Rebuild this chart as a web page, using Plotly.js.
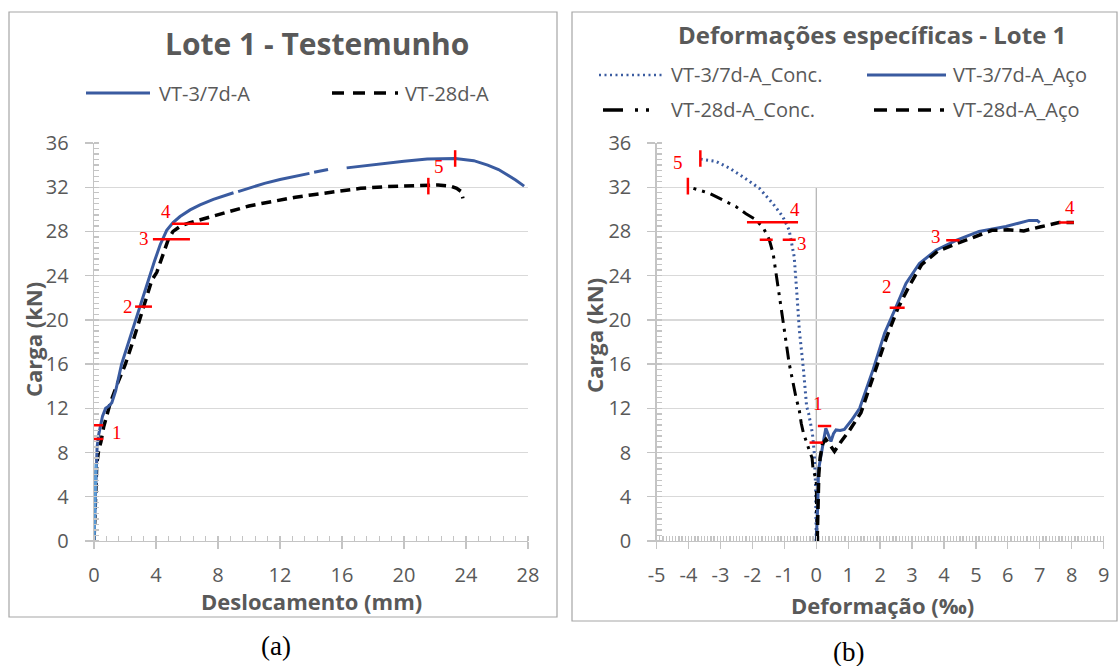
<!DOCTYPE html>
<html>
<head>
<meta charset="utf-8">
<script src="https://cdn.plot.ly/plotly-3.0.1.min.js"></script>
<style>
  html, body { margin: 0; padding: 0; background: #ffffff; }
  #chart { width: 1118px; height: 666px; }
</style>
</head>
<body>
<div id="chart"></div>
<script>
// ---------- Panel (a): load vs. displacement ----------
const dispVT37 = [0, 0.04, 0.07, 0.1, 0.13, 0.2, 0.3, 0.4, 0.55, 0.75, 0.95, 1.15, 1.4, 1.78, 2.25, 2.69, 3.1, 3.5, 3.9, 4.27, 4.69, 5.1, 5.55, 6.2, 6.84, 7.7, 8.56, 9.0, null, 9.3, 10.28, 11.0, 12.0, 12.86, 13.9, null, 14.2, 15.1, null, 16.3, 18.0, 20.0, 21.5, 22.5, 23.3, 24.5, 25.4, 26.1, 26.7, 27.2, 27.75];
const loadVT37 = [0, 2, 4, 5.5, 7, 8.5, 9.6, 10.4, 11.3, 12.0, 12.2, 12.5, 13.6, 16.0, 18.1, 20.0, 21.8, 23.6, 25.3, 26.8, 28.1, 28.8, 29.35, 29.95, 30.4, 30.9, 31.3, 31.5, null, 31.6, 32.06, 32.35, 32.7, 32.95, 33.25, null, 33.35, 33.6, null, 33.75, 34.05, 34.35, 34.55, 34.6, 34.6, 34.4, 34.0, 33.6, 33.1, 32.65, 32.1];
const dispVT28 = [0, 0.03, 0.06, 0.1, 0.18, 0.3, 0.45, 0.62, 0.85, 1.03, 1.5, 2.0, 2.5, 2.97, 3.35, 3.73, 4.05, 4.45, 4.8, 5.1, 5.6, 6.2, 6.85, 7.9, 9.0, 10.0, 10.9, 12.0, 13.0, 14.0, 15.5, 17.2, 18.8, 20.4, 21.5, 22.2, 23.0, 23.4, 23.7, 23.8];
const loadVT28 = [0, 1.5, 3.5, 5.5, 7.0, 8.2, 9.0, 10.3, 11.5, 12.4, 14.2, 15.9, 18.0, 20.15, 21.9, 23.6, 24.3, 26.0, 27.3, 28.0, 28.5, 28.8, 29.05, 29.5, 29.95, 30.3, 30.55, 30.86, 31.1, 31.3, 31.6, 31.9, 32.05, 32.15, 32.2, 32.2, 32.1, 31.9, 31.6, 31.0];

// ---------- Panel (b): load vs. strain ----------
const strainConc37 = [0, -0.02, -0.06, -0.12, -0.24, -0.3, -0.4, -0.53, -0.6, -0.69, -0.85, -1.05, -1.37, -1.78, -2.31, -2.72, -3.14, -3.61];
const loadConc37   = [0, 4.9, 7.9, 9.75, 11.56, 12.15, 15.5, 19.1, 22.1, 25.7, 28.14, 29.35, 30.56, 31.9, 32.97, 33.73, 34.33, 34.54];
const strainConc28 = [0.02, 0.02, 0.0, -0.1, -0.13, -0.24, -0.4, -0.47, -0.53, -0.64, -0.76, -0.85, -1.03, -1.14, -1.26, -1.35, -1.47, -1.65, -1.89, -2.2, -2.52, -2.95, -3.35, -4.03];
const loadConc28   = [0, 3, 5.5, 6.5, 7.5, 8.4, 9.75, 10.65, 11.8, 13.06, 14.7, 16.1, 19.7, 22.0, 24.5, 26.0, 27.24, 28.3, 29.05, 29.6, 30.25, 30.9, 31.46, 32.06];
const strainSteel37 = [0, 0.03, 0.05, 0.07, 0.15, 0.25, 0.3, 0.38, 0.46, 0.54, 0.62, 0.75, 0.88, 1.1, 1.36, 1.78, 2.14, 2.46, 2.81, 3.23, 3.75, 4.38, 5.1, 5.94, 6.67, 6.92, 7.0];
const loadSteel37   = [0, 2, 3.4, 6.4, 7.9, 9.4, 10.2, 9.6, 9.0, 9.7, 10.05, 10.0, 10.1, 10.9, 12.0, 15.5, 18.8, 20.9, 23.3, 25.1, 26.3, 27.2, 28.0, 28.45, 29.0, 29.0, 28.8];
const strainSteel28 = [0.03, 0.05, 0.08, 0.12, 0.2, 0.3, 0.45, 0.57, 0.78, 1.04, 1.4, 1.8, 2.2, 2.55, 2.9, 3.3, 3.8, 4.4, 5.0, 5.5, 6.0, 6.5, 7.0, 7.6, 8.07];
const loadSteel28   = [0, 3, 6, 7.5, 8.8, 9.2, 8.6, 8.1, 9.0, 10.0, 11.6, 15.0, 18.4, 21.0, 23.0, 25.0, 26.2, 26.9, 27.6, 28.1, 28.15, 28.05, 28.4, 28.8, 28.8];

// ---------- Axes and text ----------
const loadTicks = [0, 4, 8, 12, 16, 20, 24, 28, 32, 36];
const dispTicks = [0, 4, 8, 12, 16, 20, 24, 28];
const strainTicks = [-5, -4, -3, -2, -1, 0, 1, 2, 3, 4, 5, 6, 7, 8, 9];
const namesA = ['VT-3/7d-A', 'VT-28d-A'];
const namesB = ['VT-3/7d-A_Conc.', 'VT-3/7d-A_Aço', 'VT-28d-A_Conc.', 'VT-28d-A_Aço'];

// Loading stages marked on each panel: [label, start, end, load]
const stagesA = [['1', -0.37, 0.6, 10.47], ['', -0.37, 0.6, 9.23], ['2', 2.65, 3.74, 21.2], ['3', 3.8, 6.19, 27.3], ['4', 5.03, 7.42, 28.7]];
// Failure (stage 5) marks: [position, load]
const failA = [[23.3, 34.6], [21.57, 32.1]];
const stagesB = [['4', -2.17, -0.57, 28.84], ['1', 0.05, 0.47, 10.4], ['', -0.21, 0.21, 8.9], ['2', 2.3, 2.77, 21.1], ['3', 4.07, 4.49, 27.2], ['4', 7.6, 8.07, 28.8]];
const failB = [[-3.63, 34.6], [-4.02, 32.1]];

const W = 1118, H = 666;
const px = v => v / W;
const py = v => 1 - v / H;

const BLUE = '#3a5ba0';
const BLUE_LIGHT = '#5b9bd5';
const GREY = '#595959';
const RED = '#ff0000';
const FONT = 'Open Sans, Noto Sans, sans-serif';
const SERIF = 'Liberation Serif, Times New Roman, serif';

const DASH_A = '10px,6px';
const DOT_B = '2px,3.5px';
const DASHDOT_B = '13px,6px,3px,6px,3px,6px';

const traces = [
  { x: dispVT28, y: loadVT28, xaxis: 'x', yaxis: 'y', mode: 'lines', name: namesA[1],
    line: { color: '#000000', width: 3.5, dash: DASH_A }, showlegend: false },
  { x: dispVT37, y: loadVT37, xaxis: 'x', yaxis: 'y', mode: 'lines', name: namesA[0],
    line: { color: BLUE, width: 3 }, showlegend: false },
  { x: dispVT37.slice(0, 5), y: loadVT37.slice(0, 5), xaxis: 'x', yaxis: 'y', mode: 'lines', name: namesA[0],
    line: { color: BLUE_LIGHT, width: 3 }, showlegend: false, hoverinfo: 'skip' },

  { x: strainConc37, y: loadConc37, xaxis: 'x2', yaxis: 'y2', mode: 'lines', name: namesB[0],
    line: { color: BLUE, width: 3, dash: DOT_B }, showlegend: false },
  { x: strainConc28, y: loadConc28, xaxis: 'x2', yaxis: 'y2', mode: 'lines', name: namesB[2],
    line: { color: '#000000', width: 3, dash: DASHDOT_B }, showlegend: false },
  { x: strainSteel37, y: loadSteel37, xaxis: 'x2', yaxis: 'y2', mode: 'lines', name: namesB[1],
    line: { color: BLUE, width: 3 }, showlegend: false },
  { x: strainSteel28, y: loadSteel28, xaxis: 'x2', yaxis: 'y2', mode: 'lines', name: namesB[3],
    line: { color: '#000000', width: 3.5, dash: DASH_A }, showlegend: false }
];

const tickFont = { family: FONT, size: 20, color: GREY };
const AXIS_LINE = '#c4c4c4';

function xAxis(domain, range, ticks, minorStep, anchor) {
  return {
    domain, range, anchor, tickmode: 'array', tickvals: ticks, ticktext: ticks.map(String),
    showgrid: false, zeroline: false, showline: true, linecolor: AXIS_LINE, linewidth: 1.3,
    ticks: 'outside', ticklen: 7, tickwidth: 1.3, tickcolor: AXIS_LINE,
    ticklabelstandoff: 9, tickfont: tickFont, fixedrange: true,
    minor: { tickmode: 'linear', tick0: 0, dtick: minorStep, ticks: 'inside', ticklen: 5,
             tickwidth: 1.3, tickcolor: AXIS_LINE, showgrid: false }
  };
}
function yAxis(domain, anchor) {
  return {
    domain, range: [0, 36], anchor, tickmode: 'array', tickvals: loadTicks, ticktext: loadTicks.map(String),
    showgrid: true, gridcolor: '#d9d9d9', gridwidth: 1.4, zeroline: false,
    showline: true, linecolor: AXIS_LINE, linewidth: 1.3,
    ticks: 'outside', ticklen: 8, tickwidth: 1.3, tickcolor: AXIS_LINE,
    ticklabelstandoff: 12, tickfont: tickFont, fixedrange: true,
    minor: { tickmode: 'linear', tick0: 0, dtick: 0.5, ticks: 'inside', ticklen: 5,
             tickwidth: 1.3, tickcolor: AXIS_LINE, showgrid: false }
  };
}

const yDom = [py(541), py(143)];

const shapes = [
  // panel frames
  { type: 'rect', xref: 'paper', yref: 'paper', x0: px(9), x1: px(557), y0: py(617), y1: py(12),
    line: { color: '#a6a6a6', width: 1.2 } },
  { type: 'rect', xref: 'paper', yref: 'paper', x0: px(572), x1: px(1117), y0: py(621), y1: py(12),
    line: { color: '#a6a6a6', width: 1.2 } },
  // vertical reference line at zero strain
  { type: 'line', xref: 'x2', yref: 'y2', x0: 0, x1: 0, y0: 0, y1: 32,
    line: { color: '#a0a0a0', width: 1 }, layer: 'below' },
  // legend samples, panel (a)
  { type: 'line', xref: 'paper', yref: 'paper', x0: px(86), x1: px(150), y0: py(93), y1: py(93),
    line: { color: BLUE, width: 3 } },
  { type: 'line', xref: 'paper', yref: 'paper', x0: px(332), x1: px(398), y0: py(93), y1: py(93),
    line: { color: '#000000', width: 3.5, dash: '12px,9px' } },
  // legend samples, panel (b)
  { type: 'line', xref: 'paper', yref: 'paper', x0: px(599), x1: px(664), y0: py(75), y1: py(75),
    line: { color: BLUE, width: 2.5, dash: '2px,3.5px' } },
  { type: 'line', xref: 'paper', yref: 'paper', x0: px(867), x1: px(946), y0: py(75), y1: py(75),
    line: { color: BLUE, width: 3 } },
  { type: 'line', xref: 'paper', yref: 'paper', x0: px(603), x1: px(650), y0: py(110), y1: py(110),
    line: { color: '#000000', width: 3.5, dash: '20px,12px,3px,8px,3px,30px' } },
  { type: 'line', xref: 'paper', yref: 'paper', x0: px(874), x1: px(944), y0: py(110), y1: py(110),
    line: { color: '#000000', width: 3.5, dash: '13px,9px' } }
];

const annotations = [];
function txt(text, x, y, font, extra) {
  annotations.push(Object.assign({ text, xref: 'paper', yref: 'paper', x: px(x), y: py(y),
    showarrow: false, font, xanchor: 'center', yanchor: 'middle' }, extra || {}));
}

// titles
txt('<b>Lote 1 - Testemunho</b>', 317, 43, { family: FONT, size: 30, color: GREY });
txt('<b>Deformações específicas - Lote 1</b>', 872, 35, { family: FONT, size: 24, color: GREY });
// axis titles
txt('<b>Carga (kN)</b>', 33, 340, { family: FONT, size: 22, color: GREY }, { textangle: -90 });
txt('<b>Carga (kN)</b>', 594, 336, { family: FONT, size: 22, color: GREY }, { textangle: -90 });
txt('<b>Deslocamento (mm)</b>', 311, 601, { family: FONT, size: 22, color: GREY });
txt('<b>Deformação (‰)</b>', 882, 605, { family: FONT, size: 22, color: GREY });
// legends
const legFont = { family: FONT, size: 20, color: GREY };
txt(namesA[0], 157, 93, legFont, { xanchor: 'left' });
txt(namesA[1], 403, 93, legFont, { xanchor: 'left' });
txt(namesB[0], 669, 75, legFont, { xanchor: 'left' });
txt(namesB[1], 951, 75, legFont, { xanchor: 'left' });
txt(namesB[2], 669, 110, legFont, { xanchor: 'left' });
txt(namesB[3], 951, 110, legFont, { xanchor: 'left' });
// panel captions
txt('(a)', 276, 646, { family: SERIF, size: 27, color: '#000000' });
txt('(b)', 848, 652, { family: SERIF, size: 27, color: '#000000' });

// stage marks
const stageFont = { family: SERIF, size: 19, color: RED };
function stageMarks(list, xref, yref, labelPos) {
  list.forEach((s, i) => {
    shapes.push({ type: 'line', xref, yref, x0: s[1], x1: s[2], y0: s[3], y1: s[3],
      line: { color: RED, width: 2.5 } });
    if (s[0]) {
      const p = labelPos[i];
      annotations.push({ text: s[0], xref, yref, x: p[0], y: p[1], showarrow: false,
        font: stageFont, xanchor: 'center', yanchor: 'middle' });
    }
  });
}
stageMarks(stagesA, 'x', 'y', [[1.46, 9.8], null, [2.2, 21.2], [3.25, 27.4], [4.63, 29.8]]);
stageMarks(stagesB, 'x2', 'y2', [[-0.68, 29.95], [0.05, 12.4], null, [2.23, 23.0], [3.74, 27.5], [7.94, 30.2]]);
// dashed stage-3 mark on the concrete side
shapes.push({ type: 'line', xref: 'x2', yref: 'y2', x0: -1.77, x1: -0.6, y0: 27.24, y1: 27.24,
  line: { color: RED, width: 2.5, dash: '13px,10px' } });
annotations.push({ text: '3', xref: 'x2', yref: 'y2', x: -0.45, y: 26.9, showarrow: false,
  font: stageFont, xanchor: 'center', yanchor: 'middle' });

function failMarks(list, xref, yref, label) {
  list.forEach(f => {
    shapes.push({ type: 'line', xref, yref, x0: f[0], x1: f[0], y0: f[1] - 0.75, y1: f[1] + 0.75,
      line: { color: RED, width: 2.5 } });
  });
  annotations.push({ text: '5', xref, yref, x: label[0], y: label[1], showarrow: false,
    font: stageFont, xanchor: 'center', yanchor: 'middle' });
}
failMarks(failA, 'x', 'y', [22.26, 33.9]);
failMarks(failB, 'x2', 'y2', [-4.33, 34.2]);

const layout = {
  width: W, height: H,
  margin: { l: 0, r: 0, t: 0, b: 0 },
  paper_bgcolor: '#ffffff', plot_bgcolor: '#ffffff',
  showlegend: false,
  xaxis: xAxis([px(94), px(528)], [0, 28], dispTicks, 0.8, 'y'),
  yaxis: yAxis(yDom, 'x'),
  xaxis2: xAxis([px(656.6), px(1103.6)], [-5, 9], strainTicks, 0.1, 'y2'),
  yaxis2: yAxis(yDom, 'x2'),
  shapes, annotations
};

Plotly.newPlot('chart', traces, layout, { displayModeBar: false, staticPlot: true });
</script>
</body>
</html>
